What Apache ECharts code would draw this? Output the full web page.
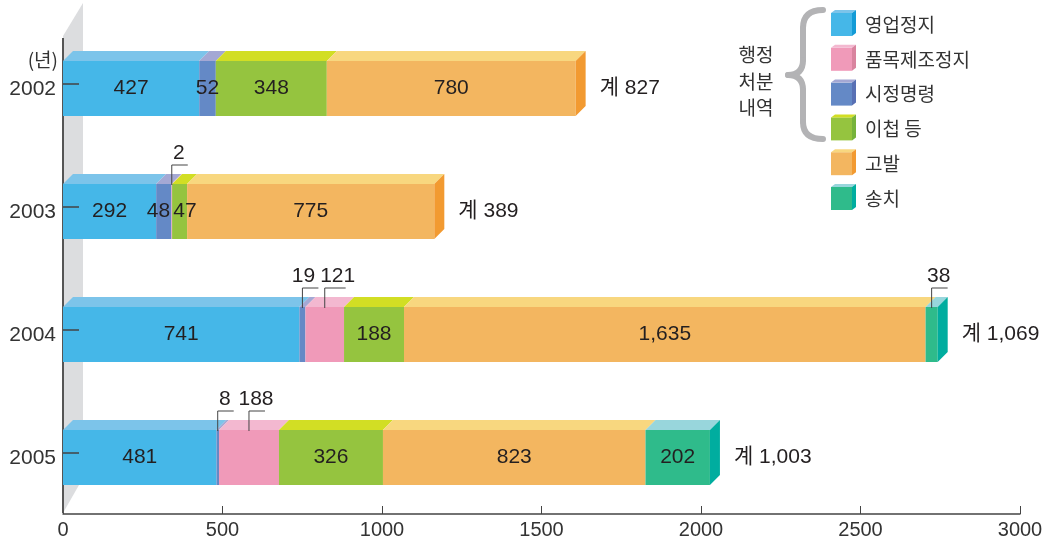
<!DOCTYPE html>
<html>
<head>
<meta charset="utf-8">
<script src="https://cdn.jsdelivr.net/npm/echarts@6/dist/echarts.min.js"></script>
<style>
html,body{margin:0;padding:0;background:#fff;}
#chart{width:1055px;height:543px;}
</style>
</head>
<body>
<div id="chart"></div>
<script>
// ---- data ----
const categories = ['2002', '2003', '2004', '2005'];
const suspension = [427, 292, 741, 481];       // 영업정지
const correction = [52, 48, 19, 8];            // 시정명령
const itemSuspension = [0, 2, 121, 188];       // 품목제조정지
const transfer = [348, 47, 188, 326];          // 이첩 등
const accusation = [780, 775, 1635, 823];      // 고발
const referral = [0, 0, 38, 202];              // 송치
const totals = [827, 389, 1069, 1003];         // 계
const legendNames = ['영업정지', '품목제조정지', '시정명령', '이첩 등', '고발', '송치'];
const groupTitle = ['행정', '처분', '내역'];
const yearUnit = '(년)';
const xMin = 0, xMax = 3000, xStep = 500;
// labels drawn outside the bar with a leader line
const callouts = {
  '품목제조정지': ['2003', '2004', '2005'],
  '시정명령': ['2004', '2005'],
  '송치': ['2004']
};

// ---- styling ----
const palette = {
  '영업정지':   {front: '#45b7e8', top: '#7cc4ea', side: '#139bd6'},
  '품목제조정지': {front: '#f09ab9', top: '#f3b8d0', side: '#d9849f'},
  '시정명령':   {front: '#6489c6', top: '#a4a8d4', side: '#5870b4'},
  '이첩 등':    {front: '#95c43f', top: '#d2de24', side: '#76b33b'},
  '고발':      {front: '#f3b660', top: '#f8d77f', side: '#f29a31'},
  '송치':      {front: '#2fbb8b', top: '#98d6dc', side: '#00ad9f'}
};
const NUM_FONT = "'Liberation Sans', Arial, 'Noto Sans CJK KR', sans-serif";
const KR_FONT = "'Noto Sans CJK KR', 'Liberation Sans', sans-serif";
const TXT = '#231f20';
const FS = 21;
const DEPTH = 10;

const stack = [
  {name: '영업정지', values: suspension},
  {name: '시정명령', values: correction},
  {name: '품목제조정지', values: itemSuspension},
  {name: '이첩 등', values: transfer},
  {name: '고발', values: accusation},
  {name: '송치', values: referral}
];

const fmt = v => Number(v).toLocaleString('en-US');
const isCallout = (name, ci) => !!(callouts[name] && callouts[name].indexOf(categories[ci]) >= 0);

// stacked extents (built from the arrays above)
const starts = [], ends = [];
(function () {
  const cum = categories.map(() => 0);
  stack.forEach((s, j) => {
    starts[j] = []; ends[j] = [];
    s.values.forEach((v, i) => { starts[j][i] = cum[i]; cum[i] += v; ends[j][i] = cum[i]; });
  });
})();

const lastSeries = categories.map((c, i) => {
  let k = -1;
  stack.forEach((s, j) => { if (s.values[i] > 0) k = j; });
  return k;
});

function resolve(items, gap) {
  items.sort((a, b) => a.x - b.x);
  for (let iter = 0; iter < 20; iter++) {
    let moved = false;
    for (let k = 0; k < items.length - 1; k++) {
      const a = items[k], b = items[k + 1];
      const ov = (a.x + a.w / 2 + gap) - (b.x - b.w / 2);
      if (ov > 0.01) { a.x -= ov / 2; b.x += ov / 2; moved = true; }
    }
    if (!moved) break;
  }
}

function geom(api, ci) {
  const c = api.coord([0, ci]);
  const band = api.size([0, 1])[1];
  const H = band * 0.447;
  const ft = c[1] - (H + DEPTH) / 2 + DEPTH;
  return {ft: ft, fb: ft + H, fc: ft + H / 2, H: H};
}

function renderSeg(name, j, params, api) {
  const ci = api.value(2);
  const v = api.value(3);
  if (!(v > 0)) return null;
  const x0 = api.coord([api.value(0), ci])[0];
  const x1 = api.coord([api.value(1), ci])[0];
  const g = geom(api, ci);
  const ft = g.ft, fb = g.fb;
  const col = palette[name];
  const children = [
    {type: 'rect', shape: {x: x0, y: ft, width: Math.max(x1 - x0, 0.8), height: g.H}, style: {fill: col.front}},
    {type: 'polygon', shape: {points: [[x0, ft], [x0 + DEPTH, ft - DEPTH], [x1 + DEPTH, ft - DEPTH], [x1, ft]]}, style: {fill: col.top}}
  ];
  if (lastSeries[ci] === j) {
    children.push({type: 'polygon', shape: {points: [[x1, ft], [x1 + DEPTH, ft - DEPTH], [x1 + DEPTH, fb - DEPTH], [x1, fb]]}, style: {fill: col.side}});
  }
  return {type: 'group', children: children};
}

function renderLabels(params, api) {
  const ci = api.value(1);
  const g = geom(api, ci);
  const inner = [], outer = [];
  stack.forEach((s, j) => {
    const v = s.values[ci];
    if (!(v > 0)) return;
    const x0 = api.coord([starts[j][ci], ci])[0];
    const x1 = api.coord([ends[j][ci], ci])[0];
    const text = fmt(v);
    const w = text.replace(/,/g, '').length * 0.556 * FS + (text.indexOf(',') >= 0 ? 0.28 * FS : 0);
    const c = isCallout(s.name, ci);
    const item = {text: text, vx: (x0 + x1) / 2, x: c ? (x0 + x1) / 2 + 7 : (x0 + x1) / 2, w: w};
    (c ? outer : inner).push(item);
  });
  resolve(inner, 3);
  resolve(outer, 5);
  const children = [];
  inner.forEach(it => {
    children.push({type: 'text', style: {text: it.text, x: it.x, y: g.fc, fill: TXT, fontSize: FS, fontFamily: NUM_FONT, align: 'center', verticalAlign: 'middle'}});
  });
  outer.forEach(it => {
    const ly = g.ft - 19;
    const hx = Math.max(it.vx + 16, it.x + 8);
    children.push({type: 'polyline', shape: {points: [[it.vx, g.ft + 1], [it.vx, ly], [hx, ly]]}, style: {stroke: '#444', lineWidth: 1, fill: null}});
    children.push({type: 'text', style: {text: it.text, x: it.x, y: ly - 1, fill: TXT, fontSize: FS, fontFamily: NUM_FONT, align: 'center', verticalAlign: 'bottom'}});
  });
  const endX = api.coord([ends[lastSeries[ci]][ci], ci])[0];
  children.push({type: 'text', style: {text: '계 ' + fmt(totals[ci]), x: endX + DEPTH + 14, y: g.fc, fill: TXT, fontSize: FS, fontFamily: NUM_FONT, align: 'left', verticalAlign: 'middle'}});
  const x0 = api.coord([xMin, ci])[0];
  children.push({type: 'text', style: {text: categories[ci], x: x0 - 7, y: g.fc + 1, fill: '#333', fontSize: FS, fontFamily: NUM_FONT, align: 'right', verticalAlign: 'middle'}});
  return {type: 'group', children: children};
}

const series = stack.map((s, j) => ({
  type: 'custom',
  name: s.name,
  data: s.values.map((v, i) => [starts[j][i], ends[j][i], i, v]),
  encode: {x: [0, 1], y: 2},
  clip: false,
  z: 2,
  renderItem: (params, api) => renderSeg(s.name, j, params, api)
}));
series.push({
  type: 'custom',
  name: 'labels',
  data: categories.map((c, i) => [xMin, i]),
  encode: {x: 0, y: 1},
  clip: false,
  z: 4,
  renderItem: renderLabels
});

// ---- decorations (wall, legend) ----
const graphics = [];
graphics.push({type: 'polygon', z: 0, shape: {points: [[63, 36], [83, 3], [83, 478], [63, 513]]}, style: {fill: '#dcdddf'}});
graphics.push({type: 'line', z: 1, shape: {x1: 63, y1: 38, x2: 63, y2: 513}, style: {stroke: '#555', lineWidth: 2}});
graphics.push({type: 'text', z: 1, style: {text: yearUnit, x: 58, y: 60, fill: '#333', fontSize: 19, fontFamily: KR_FONT, align: 'right', verticalAlign: 'middle'}});

groupTitle.forEach((t, i) => {
  graphics.push({type: 'text', style: {text: t, x: 756, y: 55 + i * 26.5, fill: '#333', fontSize: 19, fontFamily: KR_FONT, align: 'center', verticalAlign: 'middle'}});
});
const braceStyle = {stroke: '#b3b3b5', lineWidth: 6, fill: null, lineCap: 'round'};
graphics.push({type: 'bezierCurve', shape: {x1: 823, y1: 10, x2: 803, y2: 28, cpx1: 803, cpy1: 10}, style: braceStyle});
graphics.push({type: 'line', shape: {x1: 803, y1: 28, x2: 803, y2: 60}, style: braceStyle});
graphics.push({type: 'bezierCurve', shape: {x1: 803, y1: 60, x2: 788, y2: 75, cpx1: 803, cpy1: 75}, style: braceStyle});
graphics.push({type: 'bezierCurve', shape: {x1: 788, y1: 75, x2: 803, y2: 90, cpx1: 803, cpy1: 75}, style: braceStyle});
graphics.push({type: 'line', shape: {x1: 803, y1: 90, x2: 803, y2: 122}, style: braceStyle});
graphics.push({type: 'bezierCurve', shape: {x1: 803, y1: 122, x2: 823, y2: 139, cpx1: 803, cpy1: 139}, style: braceStyle});

legendNames.forEach((n, i) => {
  const cy = 24.5 + i * 34.8;
  const x = 831, w = 21, h = 23, d = 4;
  const y = cy - h / 2;
  const c = palette[n];
  graphics.push({type: 'rect', shape: {x: x, y: y, width: w, height: h}, style: {fill: c.front}});
  graphics.push({type: 'polygon', shape: {points: [[x, y], [x + d, y - 3], [x + w + d, y - 3], [x + w, y]]}, style: {fill: c.top}});
  graphics.push({type: 'polygon', shape: {points: [[x + w, y], [x + w + d, y - 3], [x + w + d, y + h - 3], [x + w, y + h]]}, style: {fill: c.side}});
  graphics.push({type: 'text', style: {text: n, x: 865, y: cy, fill: '#333', fontSize: 19, fontFamily: KR_FONT, align: 'left', verticalAlign: 'middle'}});
});

const chart = echarts.init(document.getElementById('chart'), null, {renderer: 'canvas'});
chart.setOption({
  animation: false,
  backgroundColor: '#fff',
  grid: {left: 63, right: 35, top: 22, bottom: 29, containLabel: false},
  xAxis: {
    type: 'value', min: xMin, max: xMax, interval: xStep,
    axisLine: {show: true, lineStyle: {color: '#444', width: 1.5}},
    axisTick: {show: true, inside: true, length: 8, lineStyle: {color: '#444', width: 1}},
    axisLabel: {color: '#333', fontSize: 20, fontFamily: NUM_FONT, margin: 6, formatter: v => String(v)},
    splitLine: {show: false}
  },
  yAxis: {
    type: 'category', data: categories, inverse: true, z: 5,
    axisLine: {show: false},
    axisTick: {show: true, inside: true, length: 16, alignWithLabel: true, lineStyle: {color: '#444', width: 1.5}},
    axisLabel: {show: false},
    splitLine: {show: false}
  },
  graphic: {elements: graphics},
  series: series
});
</script>
</body>
</html>
